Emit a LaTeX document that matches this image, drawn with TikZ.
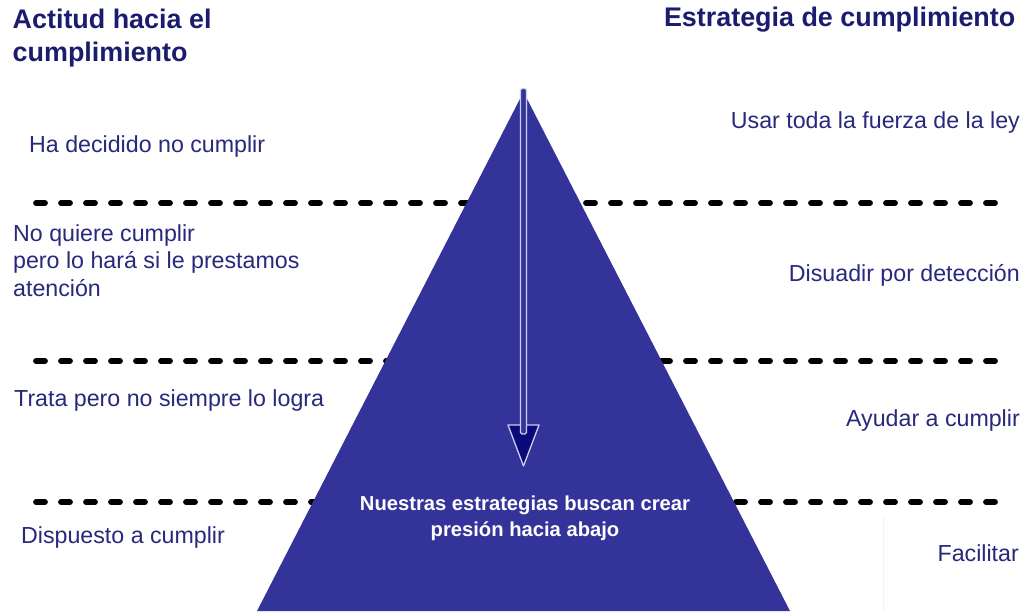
\documentclass[tikz,border=0pt]{standalone}
\usepackage{fontspec}
\setmainfont{Liberation Sans}
\definecolor{pyr}{RGB}{51,51,153}
\definecolor{titletxt}{RGB}{28,28,110}
\definecolor{bodytxt}{RGB}{40,40,125}
\definecolor{headfill}{RGB}{10,10,122}
\definecolor{arrline}{RGB}{205,205,238}
\tikzset{
  sepline/.style={draw=black, line width=5.8pt, line cap=round, dash pattern=on 9pt off 16pt},
  ttl/.style={inner sep=0pt, text=titletxt, font=\bfseries\fontsize{26.9}{32}\selectfont},
  lbl/.style={inner sep=0pt, text=bodytxt, font=\fontsize{23.2}{28}\selectfont},
  intxt/.style={inner sep=0pt, text=white, font=\bfseries\fontsize{20.2}{24}\selectfont},
  shaftbox/.style={draw=arrline, line width=1.2pt, fill=pyr, rounded corners=1.5pt},
  headbox/.style={draw=arrline, line width=1.3pt, fill=headfill, line join=round}
}
\begin{document}
\begin{tikzpicture}[x=1pt,y=-1pt]
\useasboundingbox[fill=white] (0,0) rectangle (1023,611);
% faint box edge
\coordinate (boxtop) at (883,517);
\coordinate (boxbot) at (883,611);
\draw[black!5, line width=0.8pt] (boxtop) -- (boxbot);
% separator lines
\coordinate (s1a) at (36,203); \coordinate (s1b) at (995,203);
\coordinate (s2a) at (36,361); \coordinate (s2b) at (995,361);
\coordinate (s3a) at (36,502); \coordinate (s3b) at (995,502);
\draw[sepline] (s1a) -- (s1b);
\draw[sepline] (s2a) -- (s2b);
\draw[sepline] (s3a) -- (s3b);
% pyramid
\coordinate (apex) at (523.5,92);
\coordinate (bl) at (257,611);
\coordinate (br) at (790,611);
\fill[pyr] (apex) -- (br) -- (bl) -- cycle;
% arrow
\coordinate (hl) at (508,425);
\coordinate (hr) at (539,425);
\coordinate (tip) at (523.5,466);
\draw[headbox] (hl) -- (hr) -- (tip) -- cycle;
\coordinate (shtl) at (520.5,88.5);
\coordinate (shbr) at (526.5,434);
\draw[shaftbox] (shtl) rectangle (shbr);
% titles
\node[ttl, anchor=base west] (tl1) at (12.5,28.7) {Actitud hacia el};
\node[ttl, anchor=base west] (tl2) at (12.5,61.5) {cumplimiento};
\node[ttl, anchor=base east] (tr1) at (1015.5,26.7) {Estrategia de cumplimiento};
% left labels
\node[lbl, anchor=base west] (l1) at (29,152) {Ha decidido no cumplir};
\node[lbl, anchor=base west] (l2a) at (13,241) {No quiere cumplir};
\node[lbl, anchor=base west] (l2b) at (13,268.5) {pero lo hará si le prestamos};
\node[lbl, anchor=base west] (l2c) at (13,296) {atención};
\node[lbl, anchor=base west] (l3) at (14,406) {Trata pero no siempre lo logra};
\node[lbl, anchor=base west] (l4) at (21,543) {Dispuesto a cumplir};
% right labels
\node[lbl, anchor=base east] (r1) at (1020,128.5) {Usar toda la fuerza de la ley};
\node[lbl, anchor=base east] (r2) at (1020,281) {Disuadir por detección};
\node[lbl, anchor=base east] (r3) at (1020,426) {Ayudar a cumplir};
\node[lbl, anchor=base east] (r4) at (1019,561) {Facilitar};
% inner text
\node[intxt, anchor=base] (in1) at (525,510.5) {Nuestras estrategias buscan crear};
\node[intxt, anchor=base] (in2) at (525,536.5) {presión hacia abajo};
\end{tikzpicture}
\end{document}
